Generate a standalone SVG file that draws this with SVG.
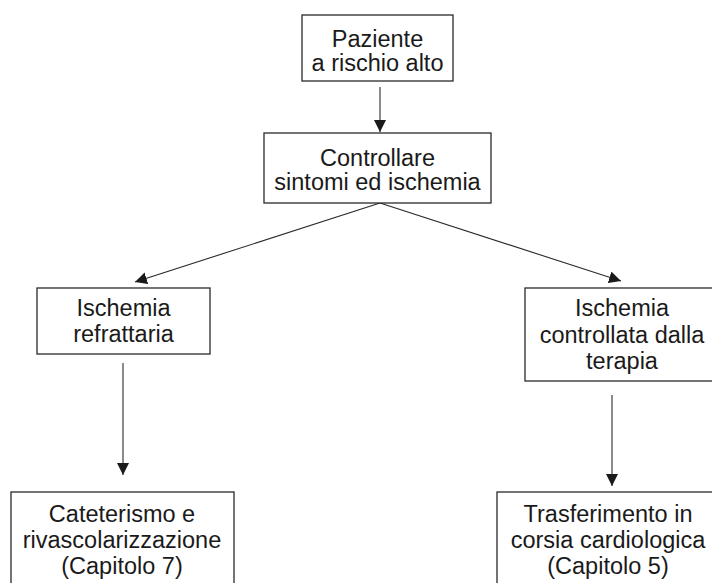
<svg xmlns="http://www.w3.org/2000/svg" width="712" height="583" viewBox="0 0 712 583">
  <defs>
    <marker id="arrow" markerUnits="userSpaceOnUse" markerWidth="14" markerHeight="13" refX="12" refY="6" orient="auto">
      <path d="M0,0 L12,6 L0,12 Z" fill="#1a1a1a"/>
    </marker>
    <style>
      .box { fill: #ffffff; stroke: #2a2a2a; stroke-width: 1.3; }
      .lbl { font-family: "Liberation Sans", Arial, sans-serif; font-size: 23.5px; fill: #1a1a1a; text-anchor: middle; }
      .conn { stroke: #2a2a2a; stroke-width: 1.1; fill: none; marker-end: url(#arrow); }
    </style>
  </defs>
  <rect width="712" height="583" fill="#ffffff"/>

  <g id="connectors">
    <line class="conn" x1="380" y1="87" x2="380" y2="132"/>
    <line class="conn" x1="380" y1="203" x2="135" y2="282"/>
    <line class="conn" x1="380" y1="203" x2="621" y2="281"/>
    <line class="conn" x1="123" y1="363" x2="123" y2="475"/>
    <line class="conn" x1="612" y1="395" x2="612" y2="486"/>
  </g>

  <g id="node-paziente">
    <rect class="box" x="302" y="15" width="151" height="66"/>
    <text class="lbl" x="377.5" y="47">Paziente</text>
    <text class="lbl" x="377.5" y="71">a rischio alto</text>
  </g>

  <g id="node-controllare">
    <rect class="box" x="264" y="133" width="227" height="70"/>
    <text class="lbl" x="377.5" y="166">Controllare</text>
    <text class="lbl" x="377.5" y="190">sintomi ed ischemia</text>
  </g>

  <g id="node-refrattaria">
    <rect class="box" x="37" y="288" width="173" height="66"/>
    <text class="lbl" x="123.5" y="316">Ischemia</text>
    <text class="lbl" x="123.5" y="342">refrattaria</text>
  </g>

  <g id="node-controllata">
    <rect class="box" x="525" y="288" width="194" height="93"/>
    <text class="lbl" x="622" y="316">Ischemia</text>
    <text class="lbl" x="622" y="343">controllata dalla</text>
    <text class="lbl" x="622" y="369">terapia</text>
  </g>

  <g id="node-cateterismo">
    <rect class="box" x="11" y="492" width="223" height="110"/>
    <text class="lbl" x="122" y="522">Cateterismo e</text>
    <text class="lbl" x="122" y="548">rivascolarizzazione</text>
    <text class="lbl" x="122" y="574">(Capitolo 7)</text>
  </g>

  <g id="node-trasferimento">
    <rect class="box" x="497" y="492" width="222" height="110"/>
    <text class="lbl" x="608" y="522">Trasferimento in</text>
    <text class="lbl" x="608" y="548">corsia cardiologica</text>
    <text class="lbl" x="608" y="574">(Capitolo 5)</text>
  </g>
</svg>
